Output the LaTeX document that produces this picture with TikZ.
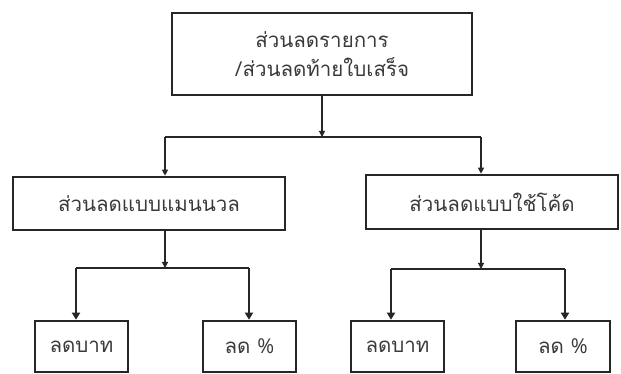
\documentclass[tikz,border=0pt]{standalone}
\usepackage{fontspec}
\newfontfamily\thaifont[Script=Thai]{Loma}
\newfontfamily\latinfont{Open Sans}
\usetikzlibrary{arrows.meta}
\definecolor{ink}{HTML}{262626}
\definecolor{txt}{HTML}{3A3A3A}
\tikzset{
  box/.style={draw=ink, line width=2.6pt, rectangle, inner sep=0pt, fill=white,
    font=\thaifont\fontsize{20.5}{29}\selectfont, text=txt, align=center},
  stem/.style={draw=ink, line width=1.2pt, -{Triangle[length=6pt,width=6pt]}},
  branch/.style={draw=ink, line width=1.8pt},
  arr/.style={draw=ink, line width=1.8pt, -{Triangle[length=7pt,width=8pt]}}
}
\begin{document}
\begin{tikzpicture}[x=1pt,y=1pt]
\useasboundingbox (0,0) rectangle (621,374);
\fill[white] (0,0) rectangle (621,374);
% nodes
\node[box, minimum width=300pt, minimum height=82pt] (top) at (322,320) {ส่วนลดรายการ\\{\latinfont /}ส่วนลดท้ายใบเสร็จ};
\node[box, minimum width=272pt, minimum height=53pt] (lm) at (149,170.5) {ส่วนลดแบบแมนนวล};
\node[box, minimum width=252pt, minimum height=54pt] (rm) at (492,172) {ส่วนลดแบบใช้โค้ด};
\node[box, minimum width=93pt, minimum height=51pt] (ll) at (81.5,27.5) {ลดบาท};
\node[box, minimum width=93pt, minimum height=51pt] (lr) at (249.5,27.5) {ลด {\latinfont\%}};
\node[box, minimum width=93pt, minimum height=51pt] (rl) at (397.5,27.5) {ลดบาท};
\node[box, minimum width=94pt, minimum height=51pt] (rr) at (563,27.5) {ลด {\latinfont\%}};
% junctions
\coordinate (j0) at (322,237);
\coordinate (j0l) at (165,237);
\coordinate (j0r) at (481,237);
\coordinate (j1) at (165,106);
\coordinate (j1l) at (76,106);
\coordinate (j1r) at (249,106);
\coordinate (j2) at (481,105);
\coordinate (j2l) at (391,105);
\coordinate (j2r) at (565,105);
% connectors
\draw[stem] (top.south) -- (j0);
\draw[branch] (j0l) -- (j0r);
\draw[stem] (j0l) -- (j0l |- lm.north);
\draw[stem] (j0r) -- (j0r |- rm.north);
\draw[stem] (j1 |- lm.south) -- (j1);
\draw[branch] (j1l) -- (j1r);
\draw[arr] (j1l) -- (j1l |- ll.north);
\draw[arr] (j1r) -- (j1r |- lr.north);
\draw[stem] (j2 |- rm.south) -- (j2);
\draw[branch] (j2l) -- (j2r);
\draw[arr] (j2l) -- (j2l |- rl.north);
\draw[arr] (j2r) -- (j2r |- rr.north);
\end{tikzpicture}
\end{document}
